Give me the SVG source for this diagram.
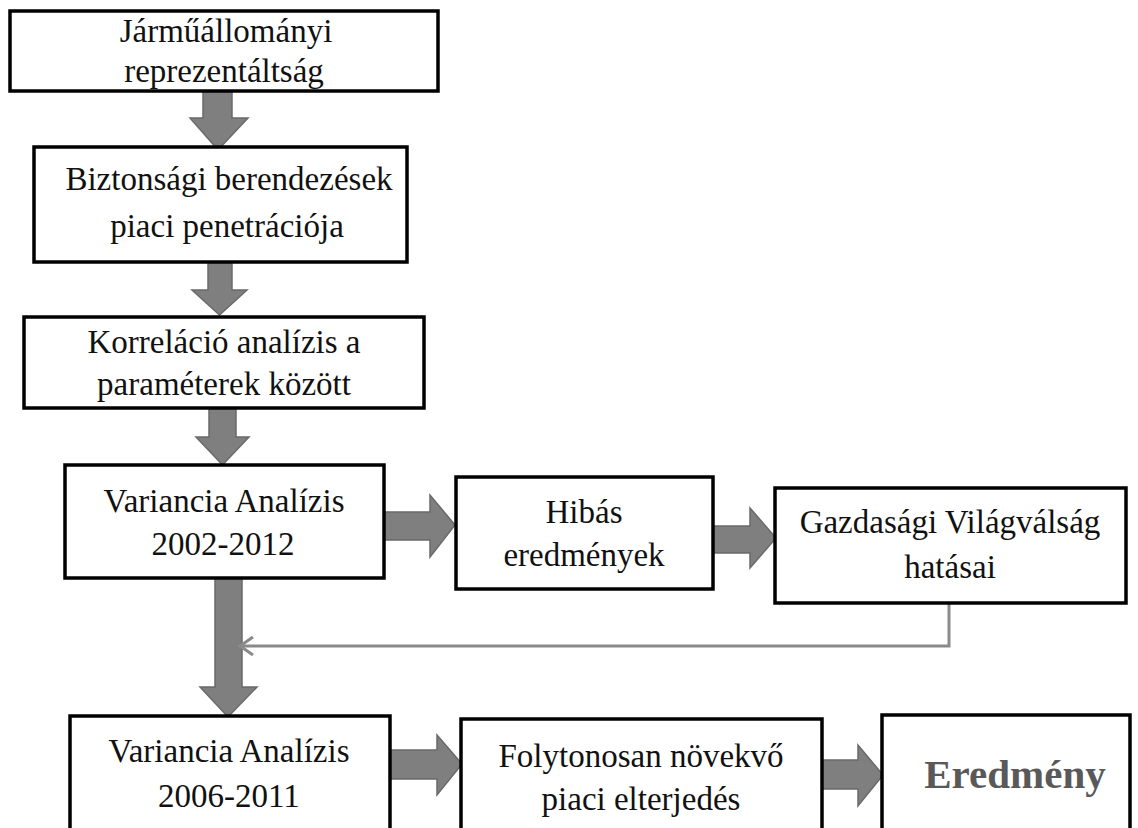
<svg xmlns="http://www.w3.org/2000/svg" width="1138" height="828" viewBox="0 0 1138 828">
<style>
.box{fill:#ffffff;stroke:#000000;stroke-width:3.5}
.t{font-family:"Liberation Serif","Times New Roman",serif;font-size:33px;fill:#111111;text-anchor:middle}
.big{font-family:"Liberation Serif","Times New Roman",serif;font-size:41px;font-weight:bold;fill:#595959;text-anchor:middle}
.arr{fill:#7f7f7f;stroke:#6a6a6a;stroke-width:1.5;stroke-linejoin:miter}
.fb{fill:none;stroke:#8a8a8a;stroke-width:3}
</style>
<rect width="1138" height="828" fill="#ffffff"/>
<g id="connectors">
<path class="arr" d="M203,91 H232 V118 H248 L218,150 L190,118 H203 Z"/>
<path class="arr" d="M208,262 H232 V290 H247 L219.5,315 L192,290 H208 Z"/>
<path class="arr" d="M209,408 H236 V437 H249 L222.5,465 L196,437 H209 Z"/>
<path class="arr" d="M215,578 H242 V687 H257 L228,717 L200,687 H215 Z"/>
<path class="arr" d="M384,512 H430 V495 L455,525 L430,557 V540 H384 Z"/>
<path class="arr" d="M713,526 H750 V508 L776,538 L750,568 V553 H713 Z"/>
<path class="arr" d="M390,750 H437 V735 L462,764 L437,795 V779 H390 Z"/>
<path class="arr" d="M822,760 H858 V745 L883,775 L858,806 V789 H822 Z"/>
<path class="fb" d="M949,603 V646 H240"/>
<path class="fb" d="M253,637 L240,646 L253,655"/>
</g>
<g id="n1">
<rect class="box" x="10" y="11" width="428" height="80"/>
<text class="t" x="226" y="42">Járműállományi</text>
<text class="t" x="224" y="82">reprezentáltság</text>
</g>
<g id="n2">
<rect class="box" x="34" y="147" width="373" height="115"/>
<text class="t" x="229" y="190">Biztonsági berendezések</text>
<text class="t" x="227" y="237">piaci penetrációja</text>
</g>
<g id="n3">
<rect class="box" x="24" y="317" width="400" height="91"/>
<text class="t" x="224" y="353">Korreláció analízis a</text>
<text class="t" x="224" y="395">paraméterek között</text>
</g>
<g id="n4">
<rect class="box" x="65" y="465" width="319" height="113"/>
<text class="t" x="224" y="512">Variancia Analízis</text>
<text class="t" x="223" y="555">2002-2012</text>
</g>
<g id="n5">
<rect class="box" x="456" y="477" width="257" height="112"/>
<text class="t" x="584" y="523">Hibás</text>
<text class="t" x="584" y="566">eredmények</text>
</g>
<g id="n6">
<rect class="box" x="775" y="488" width="351" height="115"/>
<text class="t" x="950" y="533">Gazdasági Világválság</text>
<text class="t" x="950" y="578">hatásai</text>
</g>
<g id="n7">
<rect class="box" x="70" y="716" width="320" height="124"/>
<text class="t" x="229" y="762">Variancia Analízis</text>
<text class="t" x="229" y="807">2006-2011</text>
</g>
<g id="n8">
<rect class="box" x="461" y="719" width="361" height="121"/>
<text class="t" x="641" y="767">Folytonosan növekvő</text>
<text class="t" x="641" y="810">piaci elterjedés</text>
</g>
<g id="n9">
<rect class="box" x="882" y="715" width="248" height="125"/>
<text class="big" x="1015" y="788">Eredmény</text>
</g>
</svg>
